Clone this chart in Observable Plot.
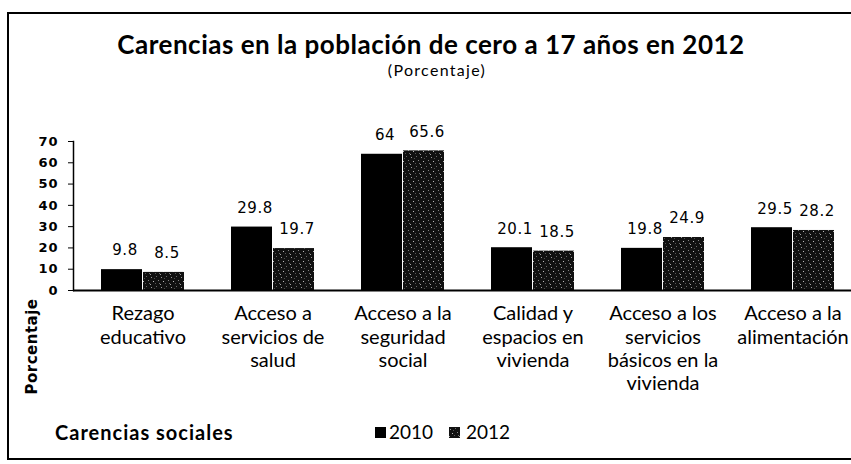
<!DOCTYPE html>
<html>
<head>
<meta charset="utf-8">
<script src="https://cdn.jsdelivr.net/npm/d3@7"></script>
<script src="https://cdn.jsdelivr.net/npm/@observablehq/plot@0.6"></script>
<style>
  html, body { margin: 0; padding: 0; background: #fff; overflow: hidden; }
  #wrap { position: relative; width: 851px; height: 464px; overflow: hidden; background: #fff; }
  .ln { position: absolute; background: #000; }
  #title { position: absolute; left: 0; width: 862px; top: 31px; text-align: center;
           font: bold 26px Lato, sans-serif; letter-spacing: 0.5px; color: #000; line-height: 26px; }
  #subtitle { position: absolute; left: 0; width: 874px; top: 61px; text-align: center;
              font: 16px Lato, sans-serif; letter-spacing: 1.3px; color: #000; line-height: 18px; }
  #chart { position: absolute; left: 0; top: 85px; }
  .lg { position: absolute; top: 420px; line-height: 24px; white-space: nowrap; color: #000;
        font: 19px Lato, sans-serif; }
  .lg.ttl { font-weight: bold; font-size: 20px; letter-spacing: 1px; }
  .sw { position: absolute; top: 427px; width: 11px; height: 11px; }
  #chart g[aria-label="y-axis tick label"] text { letter-spacing: 1px; }
  #chart g[aria-label="text"] text { letter-spacing: 0.5px; }
</style>
</head>
<body>
<svg width="0" height="0" style="position:absolute">
  <defs>
    <pattern id="speckle" patternUnits="userSpaceOnUse" width="10" height="10">
      <rect width="10" height="10" fill="#111"/>
      <rect x="1" y="2" width="1" height="1" fill="#9a9a9a"/>
      <rect x="6" y="1" width="1" height="1" fill="#6a6a6a"/>
      <rect x="3" y="6" width="1" height="1" fill="#bbbbbb"/>
      <rect x="8" y="5" width="1" height="1" fill="#808080"/>
      <rect x="5" y="8" width="1" height="1" fill="#5a5a5a"/>
      <rect x="0" y="9" width="1" height="1" fill="#a0a0a0"/>
      <rect x="9" y="8" width="1" height="1" fill="#707070"/>
      <rect x="4" y="3" width="1" height="1" fill="#505050"/>
    </pattern>
  </defs>
</svg>
<div id="wrap">
  <div class="ln" style="left:7px;top:12px;width:844px;height:2px"></div>
  <div class="ln" style="left:7px;top:12px;width:2px;height:448px"></div>
  <div class="ln" style="left:7px;top:458px;width:844px;height:2px"></div>
  <div id="title">Carencias en la población de cero a 17 años en 2012</div>
  <div id="subtitle">(Porcentaje)</div>
  <div id="chart"></div>
  <div class="lg ttl" style="left:55px">Carencias sociales</div>
  <div class="sw" style="left:375px;background:#000"></div>
  <div class="lg" style="left:389px">2010</div>
  <svg class="sw" style="left:449px" width="11" height="11"><rect width="11" height="11" fill="url(#speckle)"/></svg>
  <div class="lg" style="left:466px">2012</div>
</div>
<script>
const categories = [
  "Rezago\neducativo",
  "Acceso a\nservicios de\nsalud",
  "Acceso a la\nseguridad\nsocial",
  "Calidad y\nespacios en\nvivienda",
  "Acceso a los\nservicios\nbásicos en la\nvivienda",
  "Acceso a la\nalimentación"
];
const years = ["2010", "2012"];
const values2010 = [9.8, 29.8, 64, 20.1, 19.8, 29.5];
const values2012 = [8.5, 19.7, 65.6, 18.5, 24.9, 28.2];
const yTicks = [0, 10, 20, 30, 40, 50, 60, 70];

const d2010 = categories.map((c, i) => ({category: c, year: "2010", value: values2010[i]}));
const d2012 = categories.map((c, i) => ({category: c, year: "2012", value: values2012[i]}));

const half = 42;

const chart = Plot.plot({
  width: 851,
  height: 330,
  marginLeft: 73,
  marginRight: 0,
  marginTop: 56,
  marginBottom: 125,
  style: {background: "transparent", color: "#000"},
  x: {domain: categories, range: [75, 860.5], paddingInner: 0.358, paddingOuter: 0.179, label: null},
  y: {domain: [0, 70], label: null},
  color: {type: "ordinal", domain: years, range: ["#000000", "url(#speckle)"]},
  marks: [
    Plot.barY(d2010, {x: "category", y: "value", fill: "year", insetRight: half}),
    Plot.barY(d2012, {x: "category", y: "value", fill: "year", insetLeft: half}),
    Plot.text(d2010, {x: "category", y: "value", text: d => String(d.value), dx: -18, dy: -19,
      lineAnchor: "middle", fontSize: 15, fontFamily: "DejaVu Sans", fill: "#000"}),
    Plot.text(d2012, {x: "category", y: "value", text: d => String(d.value), dx: 24, dy: -19,
      lineAnchor: "middle", fontSize: 15, fontFamily: "DejaVu Sans", fill: "#000"}),
    Plot.ruleY([0], {stroke: "#000", strokeWidth: 2}),
    Plot.frame({anchor: "left", stroke: "#000", strokeWidth: 1.5}),
    Plot.axisY({ticks: yTicks, tickSize: 5, tickPadding: 10, tickFormat: d => String(d),
      fontSize: 13, fontWeight: "bold", fontFamily: "DejaVu Sans", label: null}),
    Plot.axisX({tickSize: 0, tickPadding: 13, fontSize: 20, fontFamily: "Lato", lineHeight: 1.17,
      textOverflow: null, label: null}),
    Plot.text(["Porcentaje"], {frameAnchor: "bottom-left", text: d => d, rotate: -90,
      dx: -41, dy: 56, textAnchor: "middle", lineAnchor: "middle",
      fontSize: 15, fontWeight: "bold", fontFamily: "DejaVu Sans", fill: "#000"})
  ]
});
document.getElementById("chart").appendChild(chart);
</script>
</body>
</html>
